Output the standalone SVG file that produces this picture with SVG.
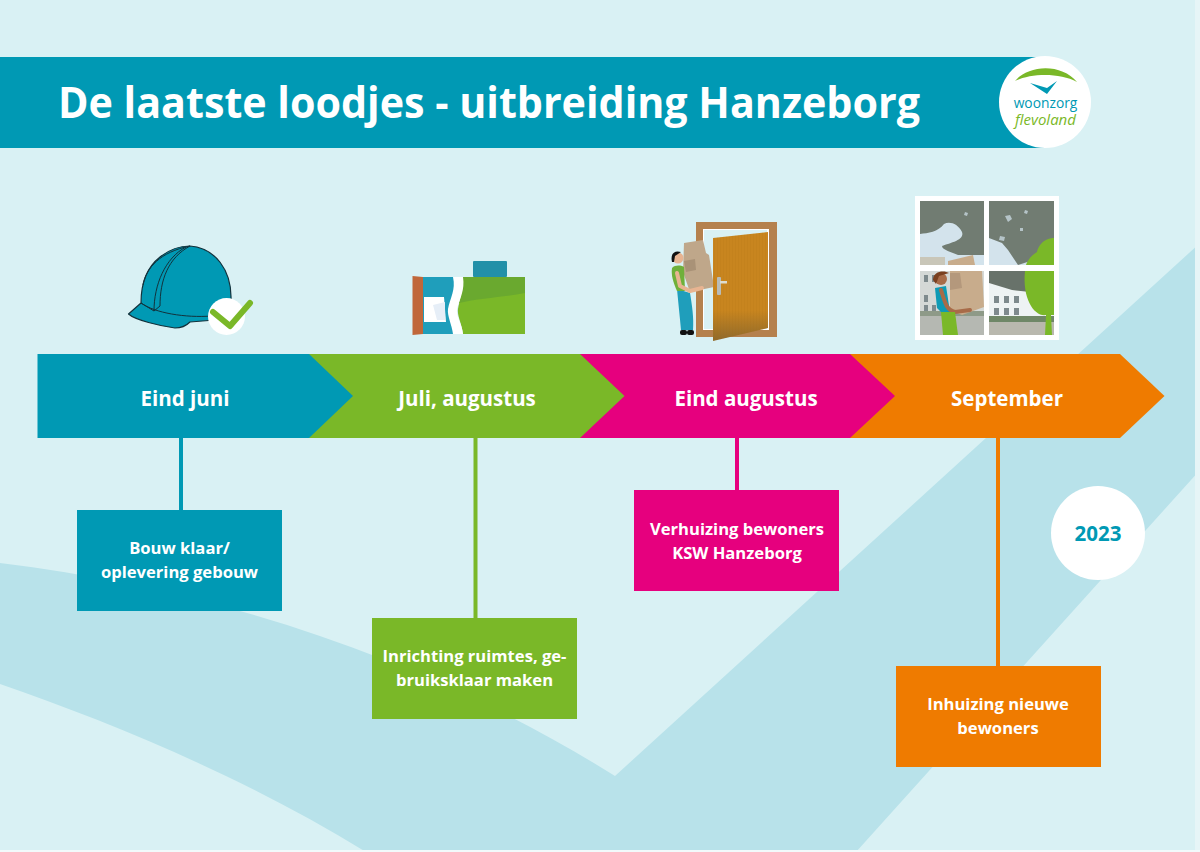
<svg xmlns="http://www.w3.org/2000/svg" width="1200" height="852" viewBox="0 0 1200 852">
<style>
.lbl{font-family:"Open Sans","Liberation Sans",sans-serif;font-weight:700;fill:#fff;text-anchor:middle}
.h{font-size:20.500px}
.b{font-size:16.600px}
.t{fill:#717c72}
.s{fill:#d3e3ec;opacity:.7}
</style>
<defs>
<clipPath id="p"><rect x="920" y="201" width="64" height="64"/><rect x="989" y="201" width="65" height="64"/><rect x="920" y="271" width="64" height="64"/><rect x="989" y="271" width="65" height="64"/></clipPath>
<linearGradient id="dg" x1="0" y1="0" x2="0" y2="1"><stop offset=".72" stop-color="#c8851f"/><stop offset="1" stop-color="#8f6a2c"/></linearGradient>
<pattern id="dp" width="3" height="10" patternUnits="userSpaceOnUse"><rect width="1" height="10" fill="#a86b14" opacity=".12"/></pattern>
</defs>
<rect width="1200" height="852" fill="#d9f1f4"/>
<path id="band" d="M0,563 C220,590 430,660 615,776 L1200,243 V470 L856,852 H366 C240,775 110,722 0,684 Z" fill="#b8e2ea"/>
<rect x="1195" y="0" width="5" height="852" fill="#e6f5f7"/>
<rect x="0" y="850" width="1200" height="2" fill="#f2fafb"/>
<g id="header">
<rect x="0" y="57" width="1045" height="91" fill="#0099b4"/>
<text x="58" y="118" font-family="'Open Sans','Liberation Sans',sans-serif" font-weight="700" font-size="43" fill="#fff" textLength="862" lengthAdjust="spacingAndGlyphs">De laatste loodjes - uitbreiding Hanzeborg</text>
</g>
<g id="logo">
<circle cx="1045" cy="102" r="46" fill="#fff"/>
<path d="M1015,81 C1030,64 1062,64 1077,82 C1060,73 1032,73 1015,81 Z" fill="#7ab828"/>
<path d="M1030,83 L1047,88 L1057,81 L1047,94 Z" fill="#0099b4"/>
<text x="1045.500" y="107.500" font-family="'Open Sans',sans-serif" font-size="13.800" fill="#0099b4" text-anchor="middle">woonzorg</text>
<text x="1045.500" y="125" font-family="'Open Sans',sans-serif" font-size="15" font-style="italic" fill="#7ab828" text-anchor="middle">flevoland</text>
</g>
<g id="connectors" stroke-width="4">
<line x1="181" y1="438" x2="181" y2="510" stroke="#0099b4"/>
<line x1="475.500" y1="438" x2="475.500" y2="618" stroke="#7ab828"/>
<line x1="737" y1="438" x2="737" y2="490" stroke="#e6007e"/>
<line x1="998" y1="438" x2="998" y2="666" stroke="#ef7b00"/>
</g>
<g id="step-orange"><path d="M850,354 H1120 L1164.500,396 L1120,438 H850 Z" fill="#ef7b00"/><text class="lbl h" x="1007" y="406">September</text></g>
<g id="step-pink"><path d="M580,354 H850 L895,396 L850,438 H580 Z" fill="#e6007e"/><text class="lbl h" x="746" y="406">Eind augustus</text></g>
<g id="step-green"><path d="M309,354 H580 L624.500,396 L580,438 H309 Z" fill="#7ab828"/><text class="lbl h" x="467" y="406">Juli, augustus</text></g>
<g id="step-teal"><path d="M37.500,354 H309 L353,396 L309,438 H37.500 Z" fill="#0099b4"/><text class="lbl h" x="185" y="406">Eind juni</text></g>
<g id="box-teal"><rect x="77" y="510" width="205" height="101" fill="#0099b4"/><text class="lbl b" x="179.500" y="554">Bouw klaar/</text><text class="lbl b" x="179.500" y="578">oplevering gebouw</text></g>
<g id="box-green"><rect x="372" y="618" width="205" height="101" fill="#7ab828"/><text class="lbl b" x="474.500" y="662">Inrichting ruimtes, ge-</text><text class="lbl b" x="474.500" y="686">bruiksklaar maken</text></g>
<g id="box-pink"><rect x="634" y="490" width="205" height="101" fill="#e6007e"/><text class="lbl b" x="737" y="535">Verhuizing bewoners</text><text class="lbl b" x="737" y="559">KSW Hanzeborg</text></g>
<g id="box-orange"><rect x="896" y="666" width="205" height="101" fill="#ef7b00"/><text class="lbl b" x="998" y="710">Inhuizing nieuwe</text><text class="lbl b" x="998" y="734">bewoners</text></g>
<g id="year"><circle cx="1098" cy="533" r="47" fill="#fff"/><text x="1098" y="541" font-family="'Open Sans',sans-serif" font-weight="700" font-size="20.500" fill="#0099b4" text-anchor="middle">2023</text></g>
<g id="icon-helmet">
<path d="M128.500,314 L141,303 C141,285 146,268 160,257 C170,249 180,246 190,246 C215,248 232,270 231,300 L215,320 L190,322 C186,326 180,328 175,328 C160,326 135,320 128.500,314 Z" fill="#0099b4" stroke="#12323c" stroke-width="1.200" stroke-linejoin="round"/>
<path d="M141,303 C155,313 185,318 212,316" fill="none" stroke="#12323c" stroke-width="1"/>
<path d="M141,303 L154,311 L160,306 C160,280 168,258 190,246 M143,285 C146,268 160,252 190,246 M154,311 C154,285 165,258 186,247" fill="none" stroke="#12323c" stroke-width="1"/>
<circle cx="226.500" cy="316.500" r="18.500" fill="#fff"/>
<path d="M213,312 L230,326 L250,303" fill="none" stroke="#7ab828" stroke-width="6" stroke-linecap="round" stroke-linejoin="round"/>
</g>
<g id="icon-furnish">
<rect x="473" y="261" width="34" height="16" rx="1" fill="#2290a8"/>
<rect x="423" y="277" width="32" height="57" fill="#1f9ebb"/>
<path d="M424,297 H444 L446,322 L424,322 Z" fill="#fff"/>
<path d="M433,305 L445,302 V320 L437,320 Z" fill="#e6eef7"/>
<path d="M412.500,276 L423,277 V334 L412.500,335 Z" fill="#c0673a"/>
<path d="M454,277 H525 V334 H463 C462,324 457,316 458,309 C460,298 463,292 461,277 Z" fill="#7ab828"/>
<path d="M461,277 H525 V293 C505,297 480,298 459,303 C462,295 463,288 461,277 Z" fill="#6aa92f"/>
<path d="M453,277 H463 C465,290 460,298 457,309 C456,316 462,324 463,334 H453 C452,325 447,316 448,309 C450,298 456,290 453,277 Z" fill="#fff"/>
</g>
<g id="icon-door">
<rect x="696" y="222" width="81" height="115" fill="#b5814d"/>
<rect x="703" y="229" width="66" height="101" fill="#fff"/>
<rect x="704" y="230" width="63" height="99" fill="#d9f1f4"/>
<path d="M684,243 L703,240 L706,253 L709,255 L714,287 L690,292 L683,272 Z" fill="#bfa78a"/>
<path d="M684,261 L695,259 L696,270 L686,272 Z" fill="#a99277"/>
<path d="M713,238 L768,232 V328 L713,341 Z" fill="url(#dg)"/>
<path d="M713,238 L768,232 V328 L713,341 Z" fill="url(#dp)"/>
<rect x="717" y="277" width="4" height="18" rx="1" fill="#b8bcb8"/>
<rect x="720" y="281" width="7" height="2.500" fill="#dcdcd0"/>
<path d="M677,289 L690,293 C692,305 694,318 693,330 H681 C680,318 678,300 677,289 Z" fill="#1f9ebb"/>
<path d="M672,268 C675,265 680,265 684,267 L685,291 L677,291 C673,282 671,275 672,268 Z" fill="#6fb03a"/>
<path d="M677,273 L680,286 L690,291 L702,288" fill="none" stroke="#e8b491" stroke-width="4" stroke-linecap="round" stroke-linejoin="round"/>
<circle cx="678" cy="258" r="5.500" fill="#e8b491"/>
<path d="M672,262 C670,253 675,250 681,252 L675,256 L674,262 Z" fill="#111"/>
<rect x="680" y="330" width="7" height="5" rx="2" fill="#111"/><rect x="687" y="330" width="7" height="5" rx="2" fill="#111"/>
</g>
<g id="icon-window">
<rect x="915" y="196" width="144" height="144" fill="#fff"/>
<g clip-path="url(#p)">
<rect x="915" y="196" width="144" height="144" fill="#d3e3ec"/>
<path class="t" d="M920,201 H984 V255 H958 C952,252 942,250 942,246 C950,243 965,240 962,232 C958,224 950,221 944,224 C938,232 928,233 920,234 Z"/>
<path class="t" d="M989,201 H1054 V240 L1040,258 L1018,265 L1008,250 L1002,243 L989,238 Z"/>
<path class="s" d="M1005,216 l5,-1 l2,4 l-4,3 z M1025,210 l3,1 l-1,3 l-3,-1 z M1020,228 l3,0 l0,3 l-3,0 z M965,212 l3,1 l-1,3 l-3,-1 z M1000,236 l5,1 l-1,4 l-5,-1 z"/>
<rect x="920" y="257" width="25" height="8" fill="#c9c6b8"/>
<rect x="920" y="271" width="64" height="44" fill="#d4d8d6"/>
<rect x="989" y="271" width="65" height="49" fill="#eef3f4"/>
<path d="M989,271 H1030 V292 L1012,290 L989,283 Z" fill="#68726a"/>
<path d="M994,296 h5 v7 h-5 z M1004,296 h5 v7 h-5 z M1014,296 h5 v7 h-5 z M994,308 h5 v7 h-5 z M1004,308 h5 v7 h-5 z M1014,308 h5 v7 h-5 z M924,275 h4 v7 h-4 z M932,275 h4 v7 h-4 z M924,295 h4 v7 h-4 z M932,305 h4 v7 h-4 z M924,305 h4 v7 h-4 z" fill="#7e8a8d"/>
<rect x="920" y="311" width="64" height="5" fill="#8e9a88"/>
<rect x="920" y="316" width="64" height="19" fill="#b5b8b2"/>
<rect x="989" y="316" width="65" height="6" fill="#6f8767"/>
<rect x="989" y="322" width="65" height="13" fill="#b9b8ae"/>
<path d="M948,261 L973,255 L975,265 H948 Z" fill="#c8ac8c"/>
<path d="M950,271 H982 L984,307 L962,315 L950,310 Z" fill="#c8ac8c"/>
<path d="M950,273 H960 L962,288 L950,290 Z" fill="#b4987c"/>
<circle cx="941" cy="279" r="6" fill="#a86b48"/>
<path d="M933,280 C933,271 944,270 949,273 L939,276 L936,284 Z" fill="#7a4020"/>
<path d="M935,288 L946,286 L950,312 H941 L937,308 Z" fill="#0e9ab5"/>
<path d="M941,290 C945,302 946,310 955,312 L970,310" fill="none" stroke="#a86b48" stroke-width="4" stroke-linecap="round"/>
<path d="M941,312 H955 L958,335 H943 Z" fill="#7ab828"/>
<path d="M1054,238 C1050,238 1040,240 1037,252 C1030,256 1027,262 1026,265 H1054 Z" fill="#7ab828"/>
<path d="M1025,271 H1054 V315 H1051 L1052,335 H1045 L1046,315 C1035,317 1022,300 1025,271 Z" fill="#7ab828"/>
</g>
</g>
</svg>
